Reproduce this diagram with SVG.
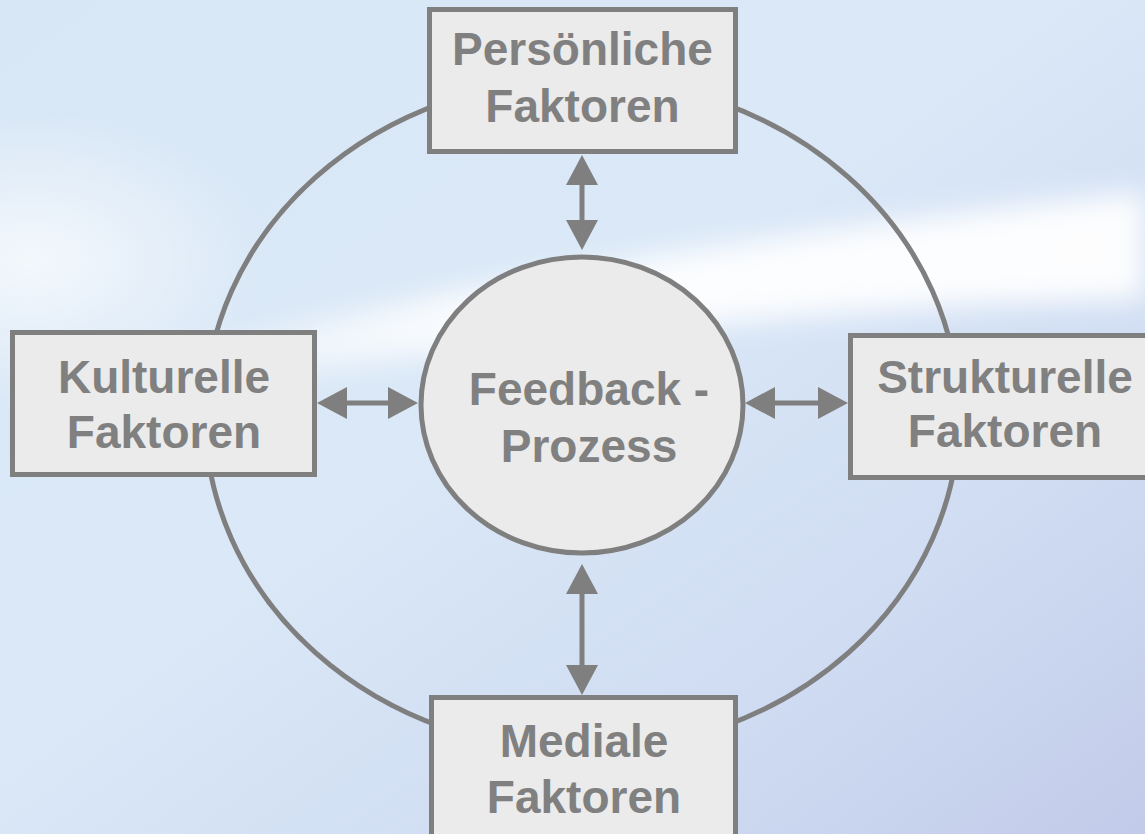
<svg xmlns="http://www.w3.org/2000/svg" width="1145" height="834" viewBox="0 0 1145 834">
<style>
.box{fill:#ebebeb;stroke:#7f7f7f;stroke-width:5}
.lbl{font-family:"Liberation Sans",Arial,sans-serif;font-weight:bold;font-size:46px;fill:#808080;text-anchor:middle}
.conn{stroke:#7f7f7f;stroke-width:5;fill:none}
</style>
<defs>
<linearGradient id="bg" x1="0" y1="0" x2="1" y2="1">
<stop offset="0" stop-color="#d8e7f6"/>
<stop offset="0.45" stop-color="#dae8f7"/>
<stop offset="0.75" stop-color="#cfdcf2"/>
<stop offset="1" stop-color="#c2cbe9"/>
</linearGradient>
<radialGradient id="glow" cx="0.5" cy="0.5" r="0.5">
<stop offset="0" stop-color="#ffffff" stop-opacity="0.7"/>
<stop offset="1" stop-color="#ffffff" stop-opacity="0"/>
</radialGradient>
<linearGradient id="streak" x1="0" y1="0" x2="1" y2="0">
<stop offset="0" stop-color="#ffffff" stop-opacity="0.3"/>
<stop offset="0.3" stop-color="#ffffff" stop-opacity="0.9"/>
<stop offset="1" stop-color="#ffffff" stop-opacity="0.95"/>
</linearGradient>
<filter id="blur" x="-20%" y="-50%" width="140%" height="200%">
<feGaussianBlur stdDeviation="14"/>
</filter>
<marker id="ah" markerUnits="userSpaceOnUse" markerWidth="32" markerHeight="32" viewBox="0 0 30 32" refX="20" refY="16" orient="auto-start-reverse">
<path d="M0,0 L30,16 L0,32 Z" fill="#7f7f7f"/>
</marker>
</defs>
<g id="background">
<rect x="0" y="0" width="1145" height="834" fill="url(#bg)"/>
<ellipse cx="30" cy="260" rx="240" ry="150" fill="url(#glow)"/>
<path d="M180,352 C420,295 700,238 1145,192 L1145,300 C820,305 520,342 260,378 Z" fill="url(#streak)" filter="url(#blur)"/>
</g>
<g id="ring">
<ellipse cx="582" cy="415" rx="377" ry="336" fill="none" stroke="#7f7f7f" stroke-width="5"/>
</g>
<g id="connectors">
<line class="conn" x1="582" y1="165" x2="582" y2="240" marker-start="url(#ah)" marker-end="url(#ah)"/>
<line class="conn" x1="582" y1="574" x2="582" y2="685" marker-start="url(#ah)" marker-end="url(#ah)"/>
<line class="conn" x1="327" y1="403" x2="408" y2="403" marker-start="url(#ah)" marker-end="url(#ah)"/>
<line class="conn" x1="755" y1="403" x2="838" y2="403" marker-start="url(#ah)" marker-end="url(#ah)"/>
</g>
<g id="node-center">
<ellipse cx="582" cy="405" rx="161" ry="148" fill="#ebebeb" stroke="#7f7f7f" stroke-width="5"/>
<text class="lbl" x="589" y="405">Feedback -</text>
<text class="lbl" x="589" y="462">Prozess</text>
</g>
<g id="node-persoenlich">
<rect class="box" x="429.5" y="9.5" width="306" height="142"/>
<text class="lbl" x="582.5" y="65">Persönliche</text>
<text class="lbl" x="582.5" y="122">Faktoren</text>
</g>
<g id="node-kulturell">
<rect class="box" x="12.5" y="332.5" width="302" height="142"/>
<text class="lbl" x="164" y="393">Kulturelle</text>
<text class="lbl" x="164" y="448">Faktoren</text>
</g>
<g id="node-strukturell">
<rect class="box" x="850.5" y="335.5" width="306" height="142"/>
<text class="lbl" x="1005" y="393">Strukturelle</text>
<text class="lbl" x="1005" y="447">Faktoren</text>
</g>
<g id="node-medial">
<rect class="box" x="431.5" y="697.5" width="304" height="142"/>
<text class="lbl" x="584" y="757">Mediale</text>
<text class="lbl" x="584" y="813">Faktoren</text>
</g>
</svg>
